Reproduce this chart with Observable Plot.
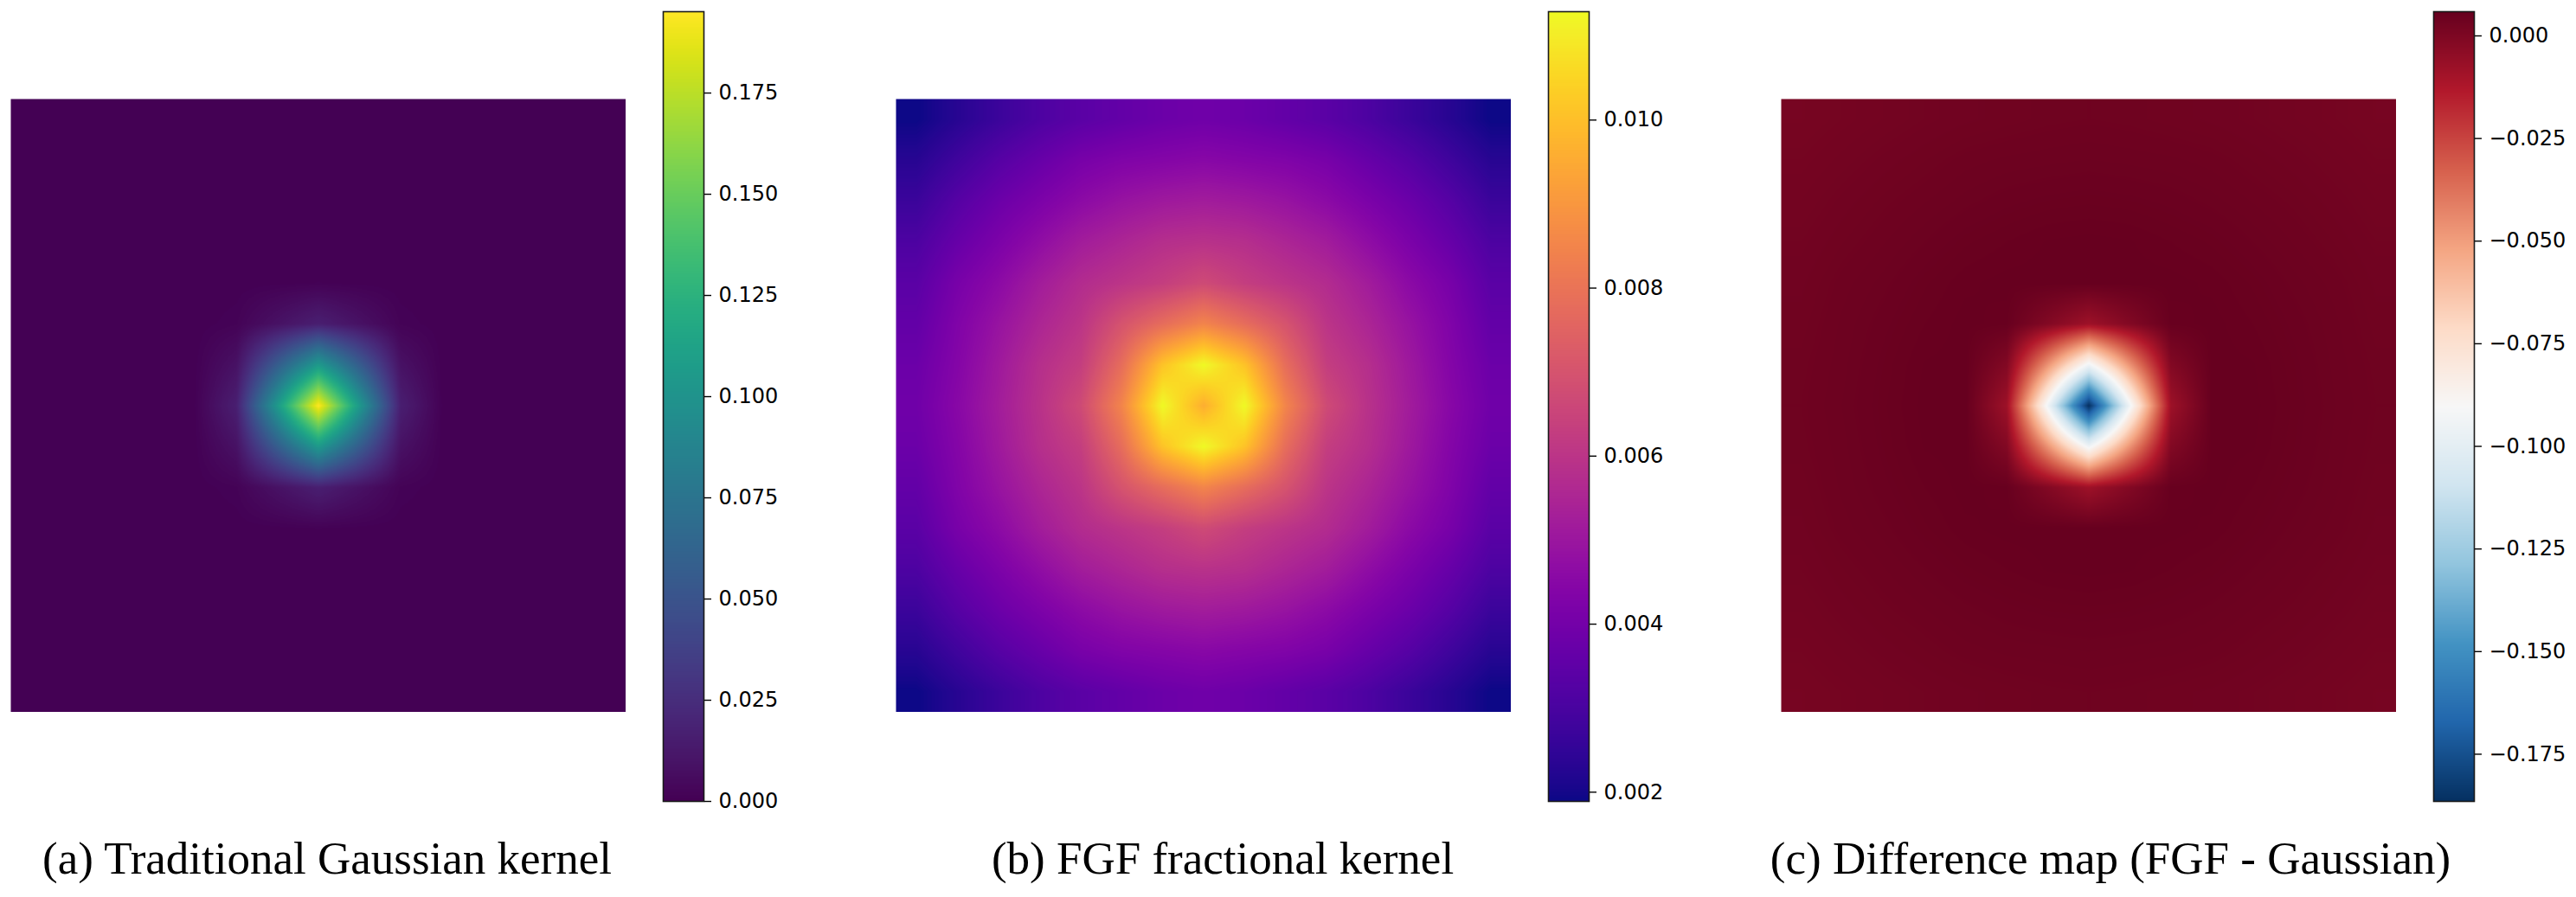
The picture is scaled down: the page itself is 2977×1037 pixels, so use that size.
<!DOCTYPE html>
<html>
<head>
<meta charset="utf-8">
<script src="https://cdn.jsdelivr.net/npm/d3@7"></script>
<script src="https://cdn.jsdelivr.net/npm/@observablehq/plot@0.6"></script>
<style>
  html, body { margin: 0; padding: 0; background: #fff; }
  #root { position: relative; width: 2977px; height: 1037px; overflow: hidden; background: #fff; }
  .piece { position: absolute; }
  .cap {
    position: absolute;
    font-family: "Liberation Serif", "Times New Roman", serif;
    font-size: 53px;
    line-height: 53px;
    white-space: nowrap;
    transform: translateX(-50%);
    color: #000;
  }
</style>
</head>
<body>
<div id="root"></div>
<script>
// ---------------- data ----------------
// Kernels are 15x15 grids, symmetric about the centre cell.
// Each quadrant array holds rows/cols at offsets 0..7 from the centre.
const gridOffsets = [-7, -6, -5, -4, -3, -2, -1, 0, 1, 2, 3, 4, 5, 6, 7];

const gaussianQuadrant = [
  [0.1951, 0.1052, 0.0165, 0.0008, 0, 0, 0, 0],
  [0.1052, 0.0568, 0.0089, 0.0004, 0, 0, 0, 0],
  [0.0165, 0.0089, 0.0014, 0.0001, 0, 0, 0, 0],
  [0.0008, 0.0004, 0.0001, 0, 0, 0, 0, 0],
  [0, 0, 0, 0, 0, 0, 0, 0],
  [0, 0, 0, 0, 0, 0, 0, 0],
  [0, 0, 0, 0, 0, 0, 0, 0],
  [0, 0, 0, 0, 0, 0, 0, 0]
];

const fgfQuadrant = [
  [0.0096, 0.01129, 0.0085, 0.0067, 0.0059, 0.0052, 0.0045, 0.0039],
  [0.01129, 0.0101, 0.0078, 0.0063, 0.0058, 0.0051, 0.0044, 0.0038],
  [0.0085, 0.0078, 0.0070, 0.0060, 0.0055, 0.0049, 0.0043, 0.0036],
  [0.0067, 0.0063, 0.0060, 0.0057, 0.0052, 0.0046, 0.0041, 0.0034],
  [0.0059, 0.0058, 0.0055, 0.0052, 0.0047, 0.0042, 0.0037, 0.0031],
  [0.0052, 0.0051, 0.0049, 0.0046, 0.0042, 0.0038, 0.0033, 0.0027],
  [0.0045, 0.0044, 0.0043, 0.0041, 0.0037, 0.0033, 0.0028, 0.0023],
  [0.0039, 0.0038, 0.0036, 0.0034, 0.0031, 0.0027, 0.0023, 0.00189]
];

const diffQuadrant = [
  [-0.1865, -0.0939, -0.0080, 0.0059, 0.0059, 0.0052, 0.0045, 0.0039],
  [-0.0939, -0.0467, -0.0011, 0.0059, 0.0058, 0.0051, 0.0044, 0.0038],
  [-0.0080, -0.0011, 0.0056, 0.0059, 0.0055, 0.0049, 0.0043, 0.0036],
  [0.0059, 0.0059, 0.0059, 0.0057, 0.0052, 0.0046, 0.0041, 0.0034],
  [0.0059, 0.0058, 0.0055, 0.0052, 0.0047, 0.0042, 0.0037, 0.0031],
  [0.0052, 0.0051, 0.0049, 0.0046, 0.0042, 0.0038, 0.0033, 0.0027],
  [0.0045, 0.0044, 0.0043, 0.0041, 0.0037, 0.0033, 0.0028, 0.0023],
  [0.0039, 0.0038, 0.0036, 0.0034, 0.0031, 0.0027, 0.0023, 0.00189]
];

const gaussianTicks = [0, 0.025, 0.05, 0.075, 0.1, 0.125, 0.15, 0.175];
const fgfTicks = [0.002, 0.004, 0.006, 0.008, 0.010];
const diffTicks = [0, -0.025, -0.05, -0.075, -0.1, -0.125, -0.15, -0.175];

const captions = [
  "(a) Traditional Gaussian kernel",
  "(b) FGF fractional kernel",
  "(c) Difference map (FGF - Gaussian)"
];

// matplotlib RdBu_r anchor colours (low -> high)
const rdbuRColors = ["#053061", "#2166ac", "#4393c3", "#92c5de", "#d1e5f0", "#f7f7f7",
                     "#fddbc7", "#f4a582", "#d6604d", "#b2182b", "#67001f"];

// ---------------- layout ----------------
const N = gridOffsets.length;
const layout = {
  imgLeft: [12, 1035, 2058], imgTop: 114, imgW: 711, imgH: 709,
  cbLeft: [766, 1789, 2812], cbTop: 13, cbW: 47, cbH: 913,
  capX: [378, 1413, 2439], capBaseline: 1010
};

function fullGrid(q) {
  const rows = [];
  gridOffsets.forEach((ro, r) => {
    gridOffsets.forEach((co, c) => {
      rows.push({x: c + 0.5, y: r + 0.5, v: q[Math.abs(ro)][Math.abs(co)]});
    });
  });
  return rows;
}

// bilinear interpolation in data space (like imshow interpolation="bilinear")
function bilinear(n) {
  return (index, w, h, X, Y, V) => {
    const g = new Float64Array(n * n);
    for (const i of index) {
      const c = Math.min(n - 1, Math.max(0, Math.floor(X[i] / w * n)));
      const r = Math.min(n - 1, Math.max(0, Math.floor(Y[i] / h * n)));
      g[r * n + c] = V[i];
    }
    const out = new Float64Array(w * h);
    for (let py = 0; py < h; ++py) {
      let gy = (py + 0.5) / h * n - 0.5;
      gy = Math.max(0, Math.min(n - 1, gy));
      const r0 = Math.min(n - 2, Math.floor(gy)), fy = gy - r0;
      for (let px = 0; px < w; ++px) {
        let gx = (px + 0.5) / w * n - 0.5;
        gx = Math.max(0, Math.min(n - 1, gx));
        const c0 = Math.min(n - 2, Math.floor(gx)), fx = gx - c0;
        const a = g[r0 * n + c0], b = g[r0 * n + c0 + 1];
        const c = g[(r0 + 1) * n + c0], d = g[(r0 + 1) * n + c0 + 1];
        out[py * w + px] = (a * (1 - fx) + b * fx) * (1 - fy) + (c * (1 - fx) + d * fx) * fy;
      }
    }
    return out;
  };
}

const panels = [
  {q: gaussianQuadrant, ticks: gaussianTicks, color: {type: "linear", scheme: "viridis"}},
  {q: fgfQuadrant, ticks: fgfTicks, color: {type: "linear", scheme: "plasma"}},
  {q: diffQuadrant, ticks: diffTicks, color: {type: "linear", interpolate: d3.piecewise(d3.interpolateRgb, rdbuRColors)}}
];

const root = document.getElementById("root");

panels.forEach((p, k) => {
  const data = fullGrid(p.q);
  const vmin = d3.min(data, (d) => d.v);
  const vmax = d3.max(data, (d) => d.v);
  const color = {...p.color, domain: [vmin, vmax]};

  // heatmap
  const heat = Plot.plot({
    width: layout.imgW,
    height: layout.imgH,
    margin: 0,
    x: {domain: [0, N], axis: null},
    y: {domain: [0, N], axis: null, reverse: true},
    color,
    marks: [
      Plot.raster(data, {x: "x", y: "y", fill: "v", interpolate: bilinear(N)})
    ]
  });
  heat.classList.add("piece");
  heat.style.left = layout.imgLeft[k] + "px";
  heat.style.top = layout.imgTop + "px";
  root.appendChild(heat);

  // colorbar
  const mT = 12, mB = 20, mL = 2, mR = 130;
  const cb = Plot.plot({
    width: layout.cbW + mL + mR,
    height: layout.cbH + mT + mB,
    marginTop: mT, marginBottom: mB, marginLeft: mL, marginRight: mR,
    style: {fontFamily: "DejaVu Sans, sans-serif", fontSize: "24px", color: "#000", background: "transparent", overflow: "visible"},
    x: {domain: [0, 1], axis: null},
    y: {domain: [vmin, vmax], axis: null},
    color,
    marks: [
      Plot.raster({fill: (x, y) => y, x1: 0, x2: 1, y1: vmin, y2: vmax, pixelSize: 1}),
      Plot.frame({stroke: "#1a1a1a", strokeWidth: 1.6}),
      Plot.axisY({anchor: "right", ticks: p.ticks, tickFormat: ".3f", tickSize: 8, tickPadding: 9,
                  strokeWidth: 1.4, label: null})
    ]
  });
  cb.classList.add("piece");
  cb.style.left = (layout.cbLeft[k] - mL) + "px";
  cb.style.top = (layout.cbTop - mT) + "px";
  root.appendChild(cb);

  // caption
  const cap = document.createElement("div");
  cap.className = "cap";
  cap.textContent = captions[k];
  cap.style.left = layout.capX[k] + "px";
  cap.style.top = (layout.capBaseline - 44.4) + "px";
  root.appendChild(cap);
});
</script>
</body>
</html>
